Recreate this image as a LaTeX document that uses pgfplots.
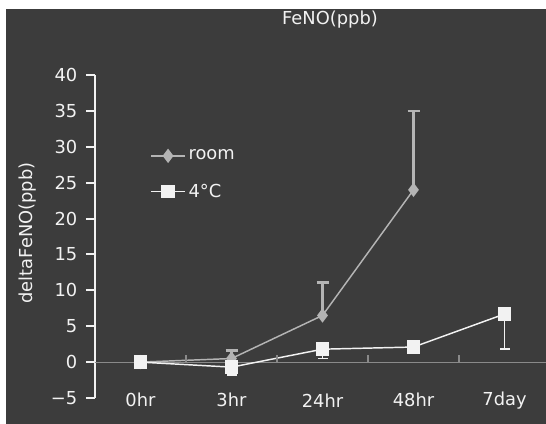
\documentclass[border=0pt]{standalone}
\usepackage{fontspec}
\setmainfont{DejaVu Sans}
\usepackage{pgfplots}
\pgfplotsset{compat=1.18}
\usetikzlibrary{calc,backgrounds}
\definecolor{bg}{HTML}{3C3C3C}
\definecolor{fg}{HTML}{F2F2F2}
\definecolor{roomc}{HTML}{B4B4B4}
\definecolor{zeroc}{HTML}{8A8A8A}
\newcommand\fs{\fontsize{13.4}{16}\selectfont}
\begin{document}
\begin{tikzpicture}
\begin{axis}[name=ax, scale only axis, width=338.25pt, height=242.25pt,
 xmin=-0.5, xmax=4.456, ymin=-5, ymax=40,
 axis lines=left, axis line style={-},
 x axis line style={draw=none},
 y axis line style={fg, line width=1.5pt},
 xtick={0,1,2,3,4}, xticklabels={0hr,3hr,24hr,48hr,7day},
 major x tick style={draw=none},
 ytick={-5,0,5,10,15,20,25,30,35,40},
 yticklabels={−5,0,5,10,15,20,25,30,35,40},
 tick align=outside, major tick length=6.75pt,
 y tick style={fg, line width=1.5pt},
 ticklabel style={font=\fs, text=fg},
 xticklabel style={anchor=center, yshift=5pt},
 yticklabel style={xshift=-3pt},
 ylabel={deltaFeNO(ppb)},
 ylabel style={at={(axis description cs:-0.1486,0.511)}, anchor=center, font=\fs, text=fg},
 legend style={draw=none, fill=none, inner sep=0pt, at={(axis description cs:0.122,0.692)}, anchor=west, font=\fs, text=fg, row sep=12.5pt},
 legend cell align=left,
 legend image code/.code={\draw[mark repeat=2,mark phase=2] plot coordinates {(0cm,0cm)(0.45cm,0cm)(0.9cm,0cm)};},
 clip=false,
]
\addplot[zeroc, line width=0.8pt, forget plot] coordinates {(-0.5,0) (4.456,0)};
\addplot[roomc, line width=1.1pt, mark=diamond*, mark size=4.5pt,
  mark options={solid, fill=roomc, draw=roomc},
  error bars/.cd, y dir=plus, y explicit,
  error bar style={line width=2.4pt, roomc},
  error mark options={rotate=90, mark size=4.5pt, line width=2pt, roomc}]
  coordinates {(0,0) +- (0,0) (1,0.5) +- (0,1.1) (2,6.5) +- (0,4.6) (3,24) +- (0,11)};
\addlegendentry{room}
\addplot[fg, line width=1.1pt, mark=square*, mark size=4.5pt,
  mark options={solid, fill=fg, draw=fg},
  error bars/.cd, y dir=minus, y explicit,
  error bar style={line width=1.4pt, fg},
  error mark options={rotate=90, mark size=3.75pt, line width=1.4pt, fg}]
  coordinates {(0,0) +- (0,0) (1,-0.7) +- (0,1.1) (2,1.8) +- (0,1.3) (3,2.1) +- (0,0.9) (4,6.7) +- (0,4.9)};
\addlegendentry{4°C}
\foreach \t in {0.5,1.5,2.5,3.5} {
  \edef\temp{\noexpand\draw[zeroc, line width=0.8pt] (axis cs:\t,0) -- ([yshift=5.25pt]axis cs:\t,0);}
  \temp
}
\end{axis}
\node[font=\fs, text=fg, anchor=center] at ($(ax.south west)+(176.25pt,283.5pt)$) {FeNO(ppb)};
\begin{scope}[on background layer]
\fill[white] ($(ax.south west)+(-71.25pt,-19.5pt)$) rectangle ($(ax.south west)+(338.25pt,298.5pt)$);
\fill[bg] ($(ax.south west)+(-66.75pt,-19.5pt)$) rectangle ($(ax.south west)+(338.25pt,291.75pt)$);
\end{scope}
\pgfresetboundingbox
\useasboundingbox ($(ax.south west)+(-71.25pt,-19.5pt)$) rectangle ($(ax.south west)+(338.25pt,298.5pt)$);
\end{tikzpicture}
\end{document}
